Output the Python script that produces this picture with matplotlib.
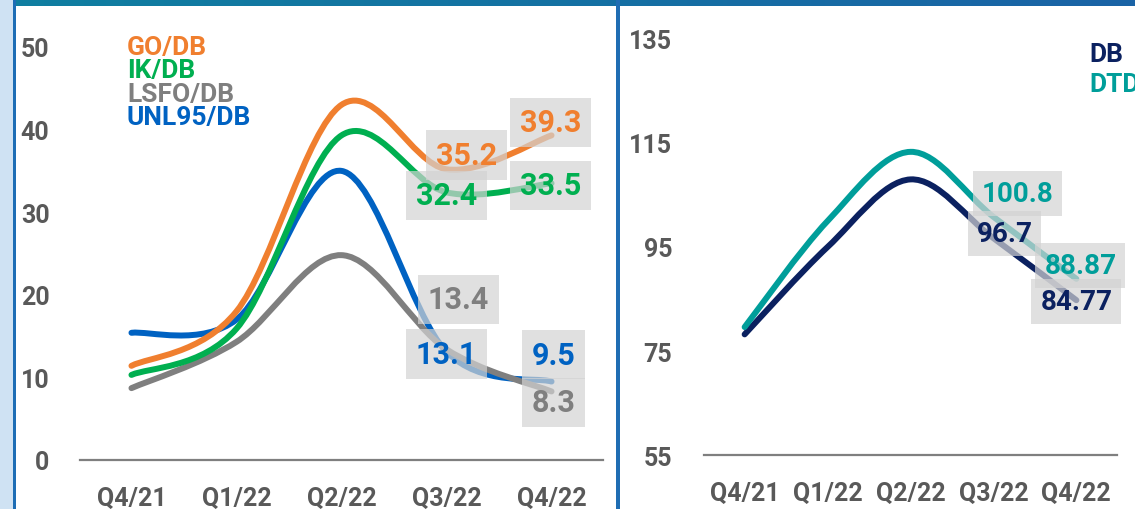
import matplotlib
matplotlib.use("Agg")
import matplotlib.pyplot as plt
import numpy as np
from matplotlib.path import Path
from matplotlib.patches import PathPatch, Rectangle
from matplotlib.colors import LinearSegmentedColormap

plt.rcParams['font.family'] = ['Roboto', 'DejaVu Sans']
plt.rcParams['font.weight'] = 'bold'

# data
quarters = ['Q4/21', 'Q1/22', 'Q2/22', 'Q3/22', 'Q4/22']

go_db = [11.4, 18.0, 43.0, 35.2, 39.3]
ik_db = [10.3, 15.9, 39.3, 32.4, 33.5]
lsfo_db = [8.7, 14.3, 24.8, 13.4, 8.3]
unl95_db = [15.4, 17.0, 35.0, 13.1, 9.5]

db = [78.2, 95.0, 108.0, 96.7, 84.77]
dtd = [79.6, 100.0, 113.3, 100.8, 88.87]

left_ticks = [0, 10, 20, 30, 40, 50]
right_ticks = [55, 75, 95, 115, 135]

# colours
ORANGE = '#F07F2F'
GREEN = '#00AF50'
GREY = '#7F7F7F'
BLUE = '#0062C2'
NAVY = '#0B2160'
TEAL = '#009E9A'
TICK = '#595959'

W, H = 1135, 510


def box(l, t, r, b):
    return [l / W, 1 - b / H, (r - l) / W, (b - t) / H]


def smooth_line(ax, values, color, lw=4.3):
    # smoothed line as cubic bezier pieces (catmull-rom style)
    pts = np.column_stack([np.arange(len(values)), values]).astype(float)
    ext = np.vstack([pts[0], pts, pts[-1]])
    verts = [tuple(pts[0])]
    codes = [Path.MOVETO]
    for i in range(1, len(ext) - 2):
        p0, p1, p2, p3 = ext[i - 1], ext[i], ext[i + 1], ext[i + 2]
        c1 = p1 + (p2 - p0) / 6
        c2 = p2 - (p3 - p1) / 6
        verts += [tuple(c1), tuple(c2), tuple(p2)]
        codes += [Path.CURVE4] * 3
    patch = PathPatch(Path(verts, codes), fill=False, edgecolor=color, lw=lw,
                      capstyle='round', joinstyle='round', clip_on=False)
    ax.add_patch(patch)


def value_label(ax, i, v, text, color, dx, dy, size):
    ax.annotate(text, xy=(i, v), xytext=(dx, dy), textcoords='offset pixels',
                ha='center', va='center', fontsize=size, color=color,
                fontweight='bold', zorder=10, annotation_clip=False,
                bbox=dict(boxstyle='square,pad=0.32', fc='#D3D3D3', ec='none', alpha=0.7))


def style_axis(ax, ticks, ypad):
    ax.set_xlim(-0.49, 4.49)
    ax.set_ylim(ticks[0], ticks[-1])
    ax.set_yticks(ticks)
    ax.set_xticks(range(len(quarters)))
    ax.set_xticklabels(quarters)
    for s in ['top', 'right', 'left']:
        ax.spines[s].set_visible(False)
    ax.spines['bottom'].set_color('#7F7F7F')
    ax.spines['bottom'].set_linewidth(1.6)
    ax.tick_params(axis='both', length=0, labelsize=18, labelcolor=TICK)
    ax.tick_params(axis='x', pad=19)
    ax.tick_params(axis='y', pad=ypad)
    ax.patch.set_alpha(0)


fig = plt.figure(figsize=(11.35, 5.10), dpi=100)

# frame decorations
fig.patches.append(Rectangle((0, 0), 12.5 / W, 1, transform=fig.transFigure,
                             fc='#CFE2F3', ec='none', zorder=0))
fig.patches.append(Rectangle((12.5 / W, 0), 3 / W, 1, transform=fig.transFigure,
                             fc='#1D6DB5', ec='none', zorder=1))
fig.patches.append(Rectangle((616 / W, 0), 4 / W, 1, transform=fig.transFigure,
                             fc='#1F6DB3', ec='none', zorder=1))
band = fig.add_axes(box(0, 0, W, 7))
band.imshow(np.linspace(0, 1, 256)[None, :], aspect='auto',
            cmap=LinearSegmentedColormap.from_list('band', ['#0F7FA0', '#1A63A6']))
band.axis('off')

# left panel
ax1 = fig.add_axes(box(80, 48, 603, 461))
style_axis(ax1, left_ticks, 22)
smooth_line(ax1, unl95_db, BLUE)
smooth_line(ax1, lsfo_db, GREY)
smooth_line(ax1, ik_db, GREEN)
smooth_line(ax1, go_db, ORANGE)

value_label(ax1, 3, go_db[3], '35.2', ORANGE, 20, 14, 22)
value_label(ax1, 4, go_db[4], '39.3', ORANGE, -1, 13, 22)
value_label(ax1, 3, ik_db[3], '32.4', GREEN, 0, -3, 22)
value_label(ax1, 4, ik_db[4], '33.5', GREEN, -1, -2, 22)
value_label(ax1, 3, lsfo_db[3], '13.4', GREY, 12, 50, 22)
value_label(ax1, 3, unl95_db[3], '13.1', BLUE, 0, -2, 22)
value_label(ax1, 4, unl95_db[4], '9.5', BLUE, 2, 27, 22)
value_label(ax1, 4, lsfo_db[4], '8.3', GREY, 2, -11, 22)

legend_left = [('GO/DB', ORANGE), ('IK/DB', GREEN), ('LSFO/DB', GREY), ('UNL95/DB', BLUE)]
for k, (name, col) in enumerate(legend_left):
    fig.text(127 / W, 1 - (55 + 23.3 * k) / H, name, color=col, fontsize=19,
             fontweight='bold', ha='left', va='baseline')

# right panel
ax2 = fig.add_axes(box(704, 40, 1117, 456))
style_axis(ax2, right_ticks, 23)
smooth_line(ax2, db, NAVY)
smooth_line(ax2, dtd, TEAL)

value_label(ax2, 3, dtd[3], '100.8', TEAL, 24, 23, 20)
value_label(ax2, 3, db[3], '96.7', NAVY, 11, 5, 20)
value_label(ax2, 4, dtd[4], '88.87', TEAL, 4, 13, 20)
value_label(ax2, 4, db[4], '84.77', NAVY, 0, -1, 20)

fig.text(1089 / W, 1 - 62 / H, 'DB', color=NAVY, fontsize=19, fontweight='bold',
         ha='left', va='baseline')
fig.text(1089 / W, 1 - 92 / H, 'DTD', color=TEAL, fontsize=19, fontweight='bold',
         ha='left', va='baseline')

fig.savefig('out.png', dpi=100)
